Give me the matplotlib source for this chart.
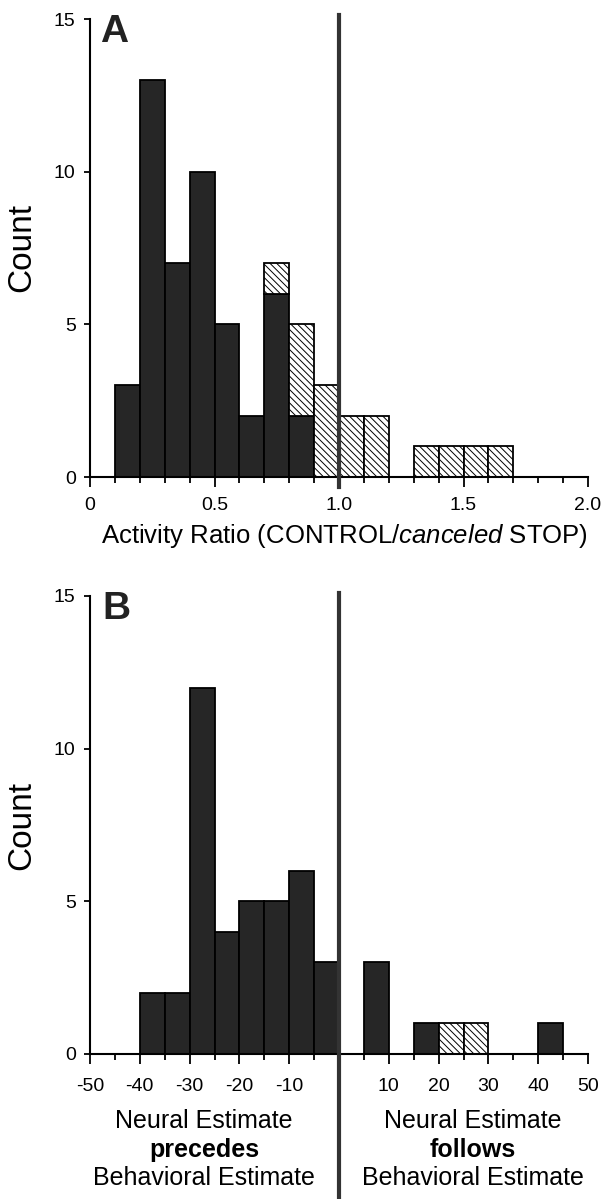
import numpy as np
import matplotlib.pyplot as plt
from matplotlib.ticker import MultipleLocator, FixedLocator, FixedFormatter
from matplotlib.lines import Line2D

plt.rcParams['font.family'] = ['Liberation Sans', 'DejaVu Sans']
plt.rcParams['mathtext.fontset'] = 'custom'
plt.rcParams['mathtext.rm'] = 'Liberation Sans'
plt.rcParams['mathtext.it'] = 'Liberation Sans:italic'
plt.rcParams['hatch.linewidth'] = 0.7

# panel A: activity ratio histogram, bins of 0.1
ratio_edges = [0.1, 0.2, 0.3, 0.4, 0.5, 0.6, 0.7, 0.8, 0.9, 1.0, 1.1, 1.2, 1.3, 1.4, 1.5, 1.6]
ratio_solid = [3, 13, 7, 10, 5, 2, 6, 2, 0, 0, 0, 0, 0, 0, 0, 0]
ratio_hatch = [0, 0, 0, 0, 0, 0, 1, 3, 3, 2, 2, 0, 1, 1, 1, 1]
a_ticks = [0, 0.5, 1.0, 1.5, 2.0]
a_labels = ['0', '0.5', '1.0', '1.5', '2.0']

# panel B: neural minus behavioral estimate (ms), bins of 5
time_edges = [-40, -35, -30, -25, -20, -15, -10, -5, 0, 5, 10, 15, 20, 25, 30, 35, 40]
time_solid = [2, 2, 12, 4, 5, 5, 6, 3, 0, 3, 0, 1, 0, 0, 0, 0, 1]
time_hatch = [0, 0, 0, 0, 0, 0, 0, 0, 0, 0, 0, 0, 1, 1, 0, 0, 0]
b_ticks = [-50, -40, -30, -20, -10, 0, 10, 20, 30, 40, 50]
b_labels = ['-50', '-40', '-30', '-20', '-10', '', '10', '20', '30', '40', '50']

dark = '#262626'
lcol = '#333333'
hatch = '\\\\\\\\\\'


def style_axes(ax):
    for s in ['top', 'right']:
        ax.spines[s].set_visible(False)
    for s in ['left', 'bottom']:
        ax.spines[s].set_linewidth(1.5)
    ax.set_ylim(0, 15)
    ax.set_yticks([0, 5, 10, 15])
    ax.tick_params(axis='y', direction='out', length=4.3, width=1.3, labelsize=14, pad=6)
    ax.tick_params(axis='x', which='major', direction='out', length=7.5, width=1.3,
                   labelsize=14, pad=7)
    ax.tick_params(axis='x', which='minor', direction='out', length=4.5, width=1.3)
    ax.set_ylabel('Count', fontsize=24)
    ax.yaxis.set_label_coords(-0.106, 0.5)


def draw_hist(ax, edges, solid, hatched, width):
    edges = np.array(edges, dtype=float)
    solid = np.array(solid)
    hatched = np.array(hatched)
    m = solid > 0
    ax.bar(edges[m], solid[m], width=width, align='edge', color=dark,
           edgecolor='black', linewidth=1.3, zorder=2)
    h = hatched > 0
    ax.bar(edges[h], hatched[h], bottom=solid[h], width=width, align='edge',
           color='white', edgecolor='black', hatch=hatch, linewidth=1.3, zorder=2)


fig = plt.figure(figsize=(6.03, 11.99), dpi=100)
W, H = 603.0, 1199.0

# ---- panel A
ax1 = fig.add_axes([90 / W, 1 - 477 / H, 498 / W, 458 / H])
draw_hist(ax1, ratio_edges, ratio_solid, ratio_hatch, 0.1)
ax1.set_xlim(0, 2.0)
style_axes(ax1)
ax1.xaxis.set_major_locator(FixedLocator(a_ticks))
ax1.xaxis.set_major_formatter(FixedFormatter(a_labels))
ax1.xaxis.set_minor_locator(MultipleLocator(0.1))
ax1.set_xlabel('Activity Ratio (CONTROL/$\\it{canceled}$ STOP)', fontsize=18.5)
ax1.xaxis.set_label_coords(0.51, -0.098)
ax1.axvline(1.0, ymin=-0.022, ymax=1.008, color=lcol, linewidth=3.0, clip_on=False, zorder=3)
ax1.text(0.02, 1.012, 'A', transform=ax1.transAxes, fontsize=28, fontweight='bold',
         va='top', ha='left', color='#222222')

# ---- panel B
ax2 = fig.add_axes([90 / W, 1 - 1054 / H, 498 / W, 458 / H])
draw_hist(ax2, time_edges, time_solid, time_hatch, 5)
ax2.set_xlim(-50, 50)
style_axes(ax2)
ax2.tick_params(axis='x', which='major', pad=10)
ax2.xaxis.set_major_locator(FixedLocator(b_ticks))
ax2.xaxis.set_major_formatter(FixedFormatter(b_labels))
ax2.xaxis.set_minor_locator(MultipleLocator(5))
ax2.text(0.024, 1.012, 'B', transform=ax2.transAxes, fontsize=28, fontweight='bold',
         va='top', ha='left', color='#222222')

x0 = ax2.transData.transform((0, 0))[0] / fig.bbox.width
top = 1 - 593 / H
fig.add_artist(Line2D([x0, x0], [0, top], color=lcol, linewidth=3.0, transform=fig.transFigure))

fs = 18
xl = 204 / W
xr = 473 / W
for xc in (xl, xr):
    fig.text(xc, 1 - 1121 / H, 'Neural Estimate', ha='center', va='center', fontsize=fs)
    fig.text(xc, 1 - 1178 / H, 'Behavioral Estimate', ha='center', va='center', fontsize=fs)
fig.text(xl, 1 - 1150 / H, 'precedes', ha='center', va='center', fontsize=fs, fontweight='bold')
fig.text(xr, 1 - 1150 / H, 'follows', ha='center', va='center', fontsize=fs, fontweight='bold')

fig.savefig('out.png', dpi=100)
